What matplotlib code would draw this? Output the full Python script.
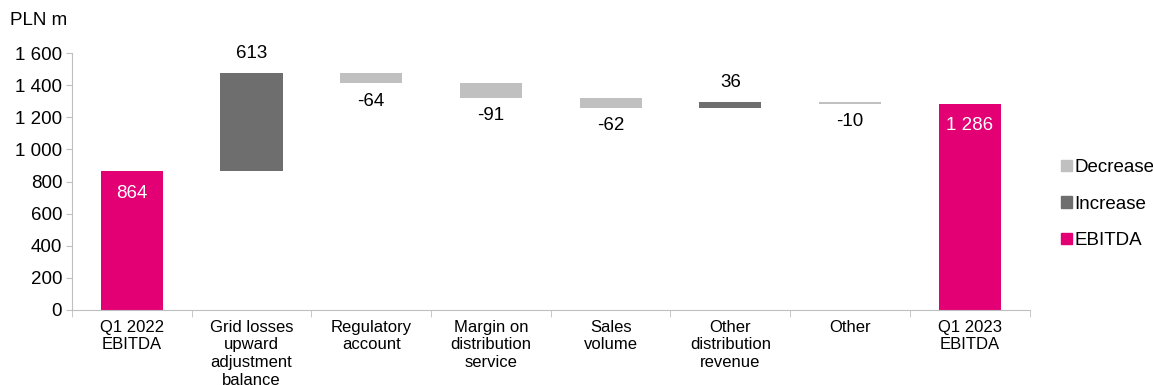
import matplotlib.pyplot as plt
from matplotlib.patches import Patch

plt.rcParams['font.family'] = ['Liberation Sans', 'DejaVu Sans']

categories = ['Q1 2022\nEBITDA', 'Grid losses\nupward\nadjustment\nbalance', 'Regulatory\naccount',
              'Margin on\ndistribution\nservice', 'Sales\nvolume', 'Other\ndistribution\nrevenue',
              'Other', 'Q1 2023\nEBITDA']
values = [864, 613, -64, -91, -62, 36, -10, 1286]
kinds = ['total', 'step', 'step', 'step', 'step', 'step', 'step', 'total']
labels = ['864', '613', '-64', '-91', '-62', '36', '-10', '1 286']

PINK = '#E20074'
DARK = '#6E6E6E'
LIGHT = '#C0C0C0'


def fmt(v, pos=None):
    return '{:,}'.format(int(v)).replace(',', ' ')


def main():
    fig = plt.figure(figsize=(11.53, 3.85), dpi=100)
    ax = fig.add_axes([0.0624, 0.195, 0.8306, 0.667])

    running = 0
    for i, (v, k) in enumerate(zip(values, kinds)):
        if k == 'total':
            ax.bar(i, v, width=0.52, color=PINK)
            ax.text(i, v - 85, labels[i], ha='center', va='top', color='white', fontsize=13.5)
            running = v
        else:
            bottom = running if v > 0 else running + v
            ax.bar(i, abs(v), bottom=bottom, width=0.52, color=DARK if v > 0 else LIGHT)
            if v > 0:
                ax.text(i, running + v + 65, labels[i], ha='center', va='bottom', fontsize=13.5)
            else:
                ax.text(i, running + v - 60, labels[i], ha='center', va='top', fontsize=13.5)
            running += v

    ax.set_xlim(-0.5, len(values) - 0.5)
    ax.set_ylim(0, 1600)
    ax.set_yticks(range(0, 1601, 200))
    ax.yaxis.set_major_formatter(plt.FuncFormatter(fmt))
    ax.set_xticks(range(len(values)))
    ax.set_xticklabels(categories, fontsize=12, linespacing=1.22)
    ax.set_xticks([i - 0.5 for i in range(len(values) + 1)], minor=True)
    ax.tick_params(axis='x', which='major', length=0, pad=7)
    ax.tick_params(axis='x', which='minor', length=5, color='#BFBFBF')
    ax.tick_params(axis='y', length=4, color='#BFBFBF', labelsize=13.5, pad=3)
    for s in ['top', 'right']:
        ax.spines[s].set_visible(False)
    for s in ['left', 'bottom']:
        ax.spines[s].set_color('#BFBFBF')

    fig.text(0.009, 0.925, 'PLN m', fontsize=13.5, va='bottom')

    handles = [Patch(color=LIGHT, label='Decrease'), Patch(color=DARK, label='Increase'),
               Patch(color=PINK, label='EBITDA')]
    fig.legend(handles=handles, loc='center left', bbox_to_anchor=(0.906, 0.47), frameon=False,
               fontsize=13.5, handlelength=0.55, handleheight=0.55, handletextpad=0.15,
               labelspacing=1.05)

    fig.savefig('out.png', dpi=100)


if __name__ == '__main__':
    main()
